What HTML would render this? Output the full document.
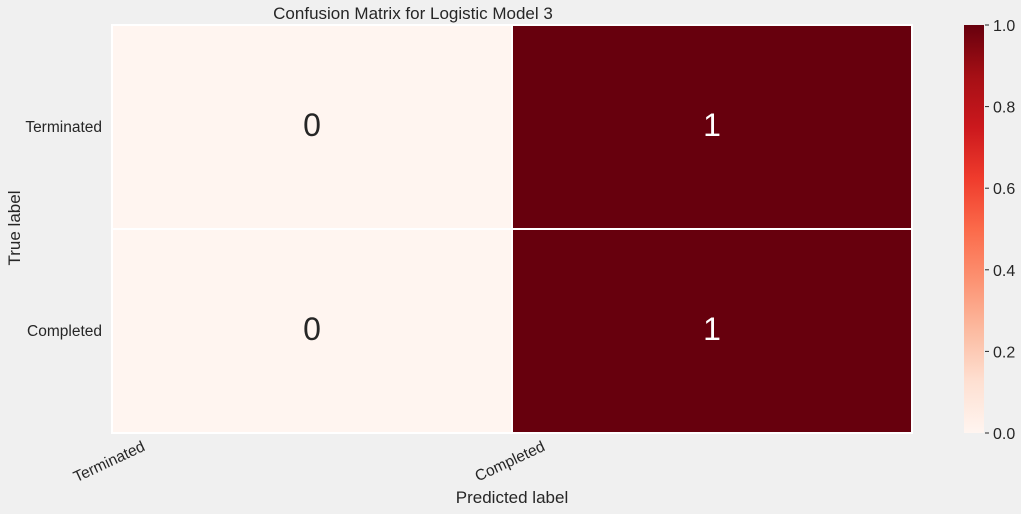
<!DOCTYPE html>
<html><head><meta charset="utf-8"><style>
body{margin:0;background:#f0f0f0;}
svg{display:block;font-family:"Liberation Sans",Arial,sans-serif;}
</style></head><body>
<svg id="chart" width="1021" height="514" viewBox="0 0 1021 514">
<defs><linearGradient id="cg" x1="0" y1="1" x2="0" y2="0">
<stop offset="0" stop-color="#fff5f0"/><stop offset="0.125" stop-color="#fee0d2"/><stop offset="0.25" stop-color="#fcbba1"/><stop offset="0.375" stop-color="#fc9272"/><stop offset="0.5" stop-color="#fb6a4a"/><stop offset="0.625" stop-color="#ef3b2c"/><stop offset="0.75" stop-color="#cb181d"/><stop offset="0.875" stop-color="#a50f15"/><stop offset="1" stop-color="#67000d"/>
</linearGradient></defs>
<text x="413" y="19" font-size="17" fill="#262626" text-anchor="middle">Confusion Matrix for Logistic Model 3</text>
<g id="cells"></g>
<text x="0" y="0" transform="translate(20,228) rotate(-90)" font-size="17" fill="#262626" text-anchor="middle">True label</text>
<text x="512" y="503" font-size="17" fill="#262626" text-anchor="middle">Predicted label</text>
<g id="xt"></g><g id="yt"></g>
<rect x="964" y="25" width="20" height="408" fill="url(#cg)"/>
<g id="cb"></g>
</svg>
<script>
const classes=["Terminated","Completed"];
const values=[[0,1],[0,1]];
const cbTicks=[0,0.2,0.4,0.6,0.8,1.0];
const cbLabels=["0.0","0.2","0.4","0.6","0.8","1.0"];
const NS="http://www.w3.org/2000/svg";
const X0=112,X1=912,Y0=25,Y1=433;
const cw=(X1-X0)/classes.length, ch=(Y1-Y0)/classes.length;
function color(v){return v>=0.5?"#67000d":"#fff5f0";}
function xs(j){return X0+j*cw;} function ys(i){return Y0+i*ch;}
function cy(v){return Y1-v*(Y1-Y0);}
function mk(t,a,p){const e=document.createElementNS(NS,t);for(const k in a)e.setAttribute(k,a[k]);p.appendChild(e);return e;}
const cells=document.getElementById('cells');
values.forEach((row,i)=>row.forEach((v,j)=>{
 const r=mk('rect',{x:xs(j),y:ys(i),width:cw,height:ch,fill:color(v),stroke:"#ffffff","stroke-width":2},cells);
 
 
 const t=mk('text',{x:xs(j)+cw/2,y:ys(i)+ch/2+9,"font-size":32,"text-anchor":"middle",fill:v>=0.5?"#ffffff":"#262626"},cells);
 t.textContent=v;
 
 
}));
const yt=document.getElementById('yt'), xt=document.getElementById('xt');
classes.forEach((c,i)=>{
 const t=mk('text',{x:102,y:ys(i)+ch/2+5,"font-size":15.5,"text-anchor":"end",fill:"#262626"},yt);
 t.textContent=c;
 
 
 const x=xs(i)+34;
 const u=mk('text',{x:0,y:0,"font-size":15.5,"text-anchor":"end",fill:"#262626",transform:`translate(${x},450) rotate(-25)`},xt);
 u.textContent=c;
 
 
});
const cb=document.getElementById('cb');
cbTicks.forEach((v,k)=>{
 mk('line',{x1:985,x2:989,y1:cy(v),y2:cy(v),stroke:"#262626"},cb);
 const t=mk('text',{x:993,y:cy(v)+6,"font-size":16,fill:"#262626"},cb);
 t.textContent=cbLabels[k];
 
 
});
</script>
</body></html>
